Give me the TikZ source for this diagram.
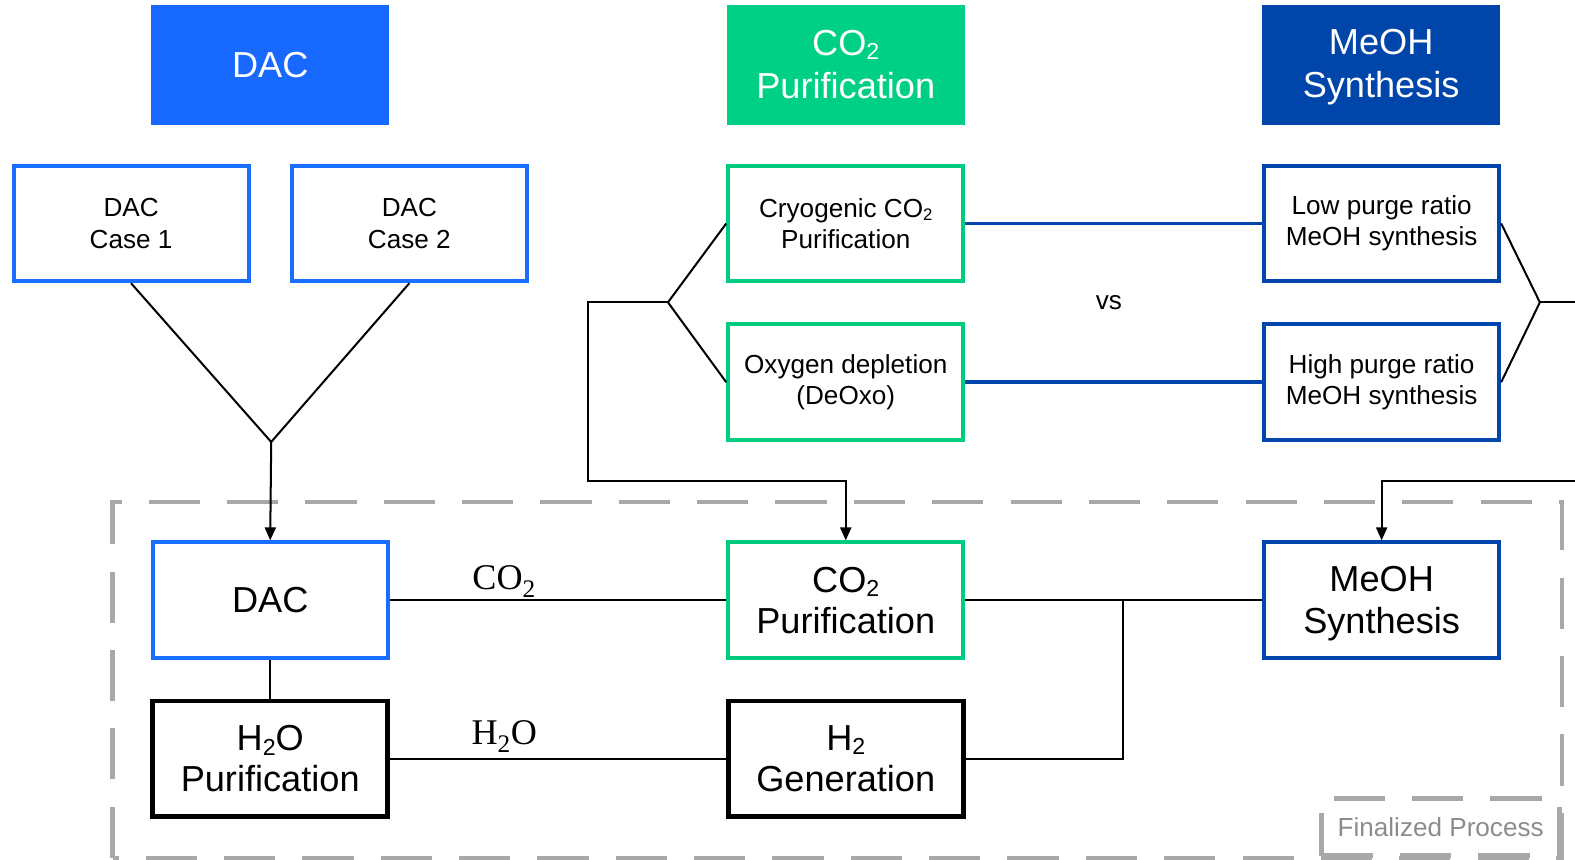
\documentclass[tikz,border=0pt]{standalone}
\usepackage{fontspec}
\setmainfont{Liberation Sans}
\newfontfamily\serifface{Liberation Serif}
\usetikzlibrary{arrows.meta,calc}
\newcommand\subtwo{\raisebox{-0.12em}{\scalebox{0.64}{2}}}
\definecolor{dacblue}{HTML}{1769FF}
\definecolor{dacborder}{HTML}{1A6EFF}
\definecolor{cogreen}{HTML}{00CF86}
\definecolor{coborder}{HTML}{00CC80}
\definecolor{meohblue}{HTML}{0045AA}
\definecolor{meohborder}{HTML}{0046AD}
\definecolor{dashgray}{HTML}{A8A8A8}
\definecolor{fingray}{HTML}{8C8C8C}
\tikzset{
  hdr/.style={minimum width=237, minimum height=119, inner sep=0, text=white,
    font=\fontsize{36}{43}\selectfont, align=center},
  sbox/.style={draw, line width=4, minimum width=234, minimum height=115, inner sep=0,
    align=center, font=\fontsize{26}{31}\selectfont},
  bbox/.style={sbox, font=\fontsize{36}{41}\selectfont},
  conn/.style={line width=2, black},
  arr/.style={conn, -{Triangle[length=13, width=11]}},
  bline/.style={line width=3.5, meohborder},
  dashbox/.style={dashgray, line width=4.5, dash pattern=on 51pt off 27pt},
  flow/.style={font=\serifface\fontsize{36}{40}\selectfont}
}
\begin{document}
\begin{tikzpicture}[x=1pt,y=-1pt]
\useasboundingbox (0,0) rectangle (1568,856);
% headers
\node[hdr, fill=dacblue] (hdac) at (269,64.5) {DAC};
\node[hdr, fill=cogreen] (hco) at (842,64.5) {\rule{0pt}{24pt}CO\subtwo\\Purification};
\node[hdr, fill=meohblue] (hme) at (1375,64.5) {\rule{0pt}{30pt}MeOH\\Synthesis};
% option boxes
\node[sbox, draw=dacborder] (c1) at (130.5,222.5) {DAC\\Case 1};
\node[sbox, draw=dacborder] (c2) at (407.5,222.5) {DAC\\Case 2};
\node[sbox, draw=coborder] (cryo) at (842,222.5) {Cryogenic CO\subtwo\\Purification};
\node[sbox, draw=coborder] (oxy) at (842,380.5) {Oxygen depletion\\(DeOxo)};
\node[sbox, draw=meohborder] (low) at (1375.5,222.5) {Low purge ratio\\MeOH synthesis};
\node[sbox, draw=meohborder] (high) at (1375.5,380.5) {High purge ratio\\MeOH synthesis};
\node[font=\fontsize{26}{31}\selectfont] (vs) at (1104,301) {vs};
\draw[bline] (cryo.east) -- (low.west);
\draw[bline] (oxy.east) -- (high.west);
% finalized process region
\draw[dashbox] (112,854) -- (112,500) -- (1555,500) -- (1555,854) -- cycle;
\node[draw=dashgray, line width=4.5, dash pattern=on 51pt off 27pt, minimum width=237,
  minimum height=57, inner sep=0, anchor=south east, text=fingray,
  font=\fontsize{26}{31}\selectfont] (fin) at (1555,854) {Finalized Process};
% main process boxes
\node[bbox, draw=dacborder] (dac) at (269,597.5) {DAC};
\node[bbox, draw=coborder] (co2p) at (842,597.5) {CO\subtwo\\Purification};
\node[bbox, draw=meohborder] (meoh) at (1375.5,597.5) {\rule{0pt}{32pt}MeOH\\Synthesis};
\node[bbox, draw=black, line width=4.5] (h2o) at (269,755.5) {H\subtwo O\\Purification};
\node[bbox, draw=black, line width=4.5] (h2) at (842,755.5) {H\subtwo\\Generation};
% junction coordinates
\coordinate (j1) at (270,440);
\coordinate (j2) at (665,301);
\coordinate (b1) at (585,479);
\coordinate (j3) at (1533,301);
\coordinate (re1) at (1570,301);
\coordinate (re2) at (1570,479);
\coordinate (j4) at (1118,597.5);
% connectors
\draw[conn] (c1.south) -- (j1) -- (c2.south);
\draw[arr] (j1) -- (dac.north);
\draw[conn] (cryo.west) -- (j2) -- (oxy.west);
\draw[arr] (j2) -| (b1) -| (co2p.north);
\draw[conn] (low.east) -- (j3) -- (high.east);
\draw[conn] (j3) -- (re1);
\draw[arr] (re2) -| (meoh.north);
\draw[conn] (dac.east) -- (co2p.west) node[pos=0.34, above=-2pt, flow] (lco) {CO\textsubscript{2}};
\draw[conn] (dac.south) -- (h2o.north);
\draw[conn] (h2o.east) -- (h2.west) node[pos=0.34, above=2pt, flow] (lho) {H\textsubscript{2}O};
\draw[conn] (co2p.east) -- (meoh.west);
\draw[conn] (h2.east) -| (j4);
\end{tikzpicture}
\end{document}
